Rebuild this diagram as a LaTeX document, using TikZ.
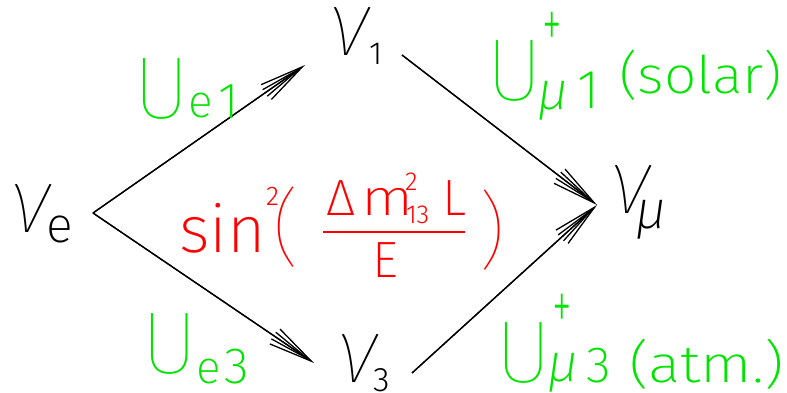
\documentclass[tikz,border=0pt]{standalone}
\usepackage{fontspec}
\usetikzlibrary{arrows.meta}
\IfFontExistsTF{Fira Sans Thin}{%
  \setmainfont{Fira Sans Thin}%
  \IfFontExistsTF{Fira Sans Thin Italic}{%
    \newfontfamily\slfont{Fira Sans Thin Italic}%
  }{%
    \newfontfamily\slfont{Fira Sans Thin}[FakeSlant=0.25]%
  }%
  \IfFontExistsTF{Fira Sans ExtraLight}{%
    \newfontfamily\firaXL{Fira Sans ExtraLight}%
  }{%
    \newfontfamily\firaXL{Fira Sans Thin}%
  }%
  \IfFontExistsTF{Fira Sans ExtraLight Italic}{%
    \newfontfamily\firaXLit{Fira Sans ExtraLight Italic}%
  }{%
    \newfontfamily\firaXLit{Fira Sans Thin}[FakeSlant=0.25]%
  }%
  \IfFontExistsTF{Fira Sans Light}{%
    \newfontfamily\firaL{Fira Sans Light}%
  }{%
    \newfontfamily\firaL{Fira Sans Thin}%
  }%
}{%
  \setmainfont{DejaVu Sans ExtraLight}%
  \newfontfamily\slfont{DejaVu Sans ExtraLight}[FakeSlant=0.25]%
  \newfontfamily\firaXL{DejaVu Sans ExtraLight}%
  \newfontfamily\firaXLit{DejaVu Sans ExtraLight}[FakeSlant=0.25]%
  \newfontfamily\firaL{DejaVu Sans ExtraLight}%
}
\newcommand\setfs[1]{\fontsize{#1}{#1}\selectfont}
\definecolor{ugreen}{RGB}{0,228,0}
\definecolor{ured}{RGB}{255,0,0}
\tikzset{
  lbl/.style={inner sep=0pt, outer sep=0pt, anchor=base west},
  blk/.style={lbl, text=black},
  grn/.style={lbl, text=ugreen},
  rd/.style={lbl, text=ured},
  arr/.style={line width=1.3pt, -{Straight Barb[length=44pt,width=18pt,line width=1.3pt]}},
  arrb/.style={line width=1.3pt, -{Straight Barb[length=42pt,width=8pt,line width=1.3pt]}},
}
\begin{document}
\begin{tikzpicture}[x=1pt,y=-1pt]
\useasboundingbox (0,0) rectangle (787,392);
% neutrino states
\node[blk] (nue) at (10,232) {\slfont\setfs{92}ν};
\node[blk] (nuesub) at (46,242) {\firaXL\setfs{50}e};
\node[blk] (nu1) at (329,55) {\slfont\setfs{92}ν};
\node[blk] (nu1sub) at (369,64) {\firaL\setfs{32}1};
\node[blk] (nu3) at (337,382) {\slfont\setfs{92}ν};
\node[blk] (nu3sub) at (373,391) {\firaL\setfs{34}3};
\node[blk] (numu) at (610,213) {\slfont\setfs{92}ν};
\node[blk] (numusub) at (635,228) {\firaXLit\setfs{54}μ};
% connector ends
\coordinate (eout) at (93,213);
\coordinate (oneIn) at (305,65);
\coordinate (threeIn) at (314,363);
\coordinate (oneOut) at (402,55);
\coordinate (threeOut) at (412,373);
\coordinate (muIn) at (597,205);
\draw[arr] (eout) -- (oneIn);
\draw[arrb] (eout) -- (oneIn);
\draw[arr] (eout) -- (threeIn);
\draw[arrb] (eout) -- (threeIn);
\draw[arr] (oneOut) -- (muIn);
\draw[arrb] (oneOut) -- (muIn);
\draw[arr] (threeOut) -- (muIn);
\draw[arrb] (threeOut) -- (muIn);
% green labels
\node[grn] (ue1U) at (133,118) {\setfs{88}U};
\node[grn] (ue1e) at (188,117) {\firaXL\setfs{46}e};
\node[grn] (ue1n) at (218,118) {\firaXL\setfs{51}1};
\node[grn] (ue3U) at (141,373) {\setfs{88}U};
\node[grn] (ue3e) at (196,383) {\firaXL\setfs{46}e};
\node[grn] (ue3n) at (224,383) {\firaXL\setfs{51}3};
\node[grn] (um1U) at (486,100) {\setfs{88}U};
\node[grn, anchor=center] (um1p) at (552,30) {\firaXL\setfs{72}\scalebox{0.55}[1]{+}};
\node[grn] (um1m) at (537,109) {\firaXLit\setfs{54}μ};
\node[grn] (um1n) at (577,108) {\firaXL\setfs{55}1};
\node[grn] (um1t) at (619,93) {\firaXL\setfs{52}\scalebox{1.1}[1]{(solar)}};
\node[grn] (um3U) at (495,382) {\setfs{88}U};
\node[grn, anchor=center] (um3p) at (562,312) {\firaXL\setfs{72}\scalebox{0.55}[1]{+}};
\node[grn] (um3m) at (547,381) {\firaXLit\setfs{54}μ};
\node[grn] (um3n) at (586,382) {\firaXL\setfs{51}3};
\node[grn] (um3t) at (629,382) {\firaXL\setfs{52}\scalebox{1.16}[1]{(atm.)}};
% red oscillation term
\node[rd] (sin) at (179,252) {\firaXL\setfs{66}sin};
\node[rd] (sinsq) at (266,205) {\firaL\setfs{27}2};
\node[rd] (lpar) at (272,256) {\setfs{84}(};
\node[rd] (rpar) at (478,259) {\setfs{84})};
\node[rd] (delta) at (326,215) {\firaXL\setfs{51}Δ};
\node[rd] (em) at (361,215) {\firaXL\setfs{51}\scalebox{1.2}[1]{m}};
\node[rd] (msq) at (405,190) {\firaL\setfs{26}2};
\node[rd] (msub) at (406,223) {\firaL\setfs{26}13};
\node[rd] (ell) at (442,215) {\firaXL\setfs{51}L};
\node[rd] (en) at (372,277) {\firaXL\setfs{51}E};
\coordinate (barL) at (323,232);
\coordinate (barR) at (465,232);
\draw[ured, line width=1.3pt] (barL) -- (barR);
\end{tikzpicture}
\end{document}
